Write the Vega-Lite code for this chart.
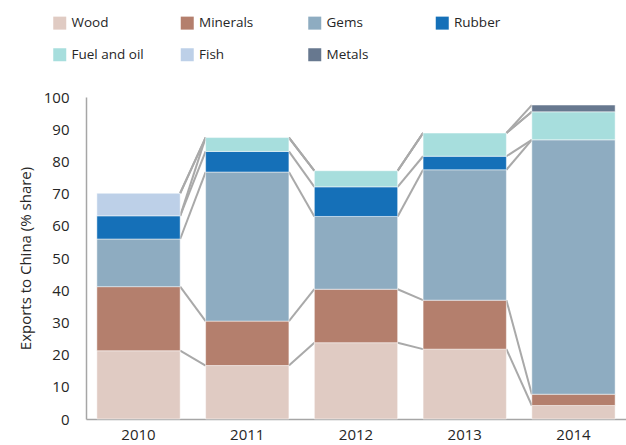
{
  "$schema": "https://vega.github.io/schema/vega-lite/v6.json",
  "width": 540,
  "height": 322,
  "autosize": {"type": "none"},
  "padding": {"left": 86, "top": 97, "right": 0, "bottom": 26},
  "background": "#ffffff",
  "config": {
    "view": {"stroke": null},
    "font": "Open Sans",
    "axis": {"labelFont": "Open Sans", "titleFont": "Open Sans"},
    "axisY": {"labelOverlap": false},
    "legend": {"labelFont": "Open Sans"}
  },
  "data": {
    "values": [
      {"year": "2010", "category": "Wood", "value": 21.2},
      {"year": "2010", "category": "Minerals", "value": 19.9},
      {"year": "2010", "category": "Gems", "value": 14.8},
      {"year": "2010", "category": "Rubber", "value": 7.2},
      {"year": "2010", "category": "Fuel and oil", "value": 0},
      {"year": "2010", "category": "Fish", "value": 7.0},
      {"year": "2010", "category": "Metals", "value": 0},
      {"year": "2011", "category": "Wood", "value": 16.6},
      {"year": "2011", "category": "Minerals", "value": 13.8},
      {"year": "2011", "category": "Gems", "value": 46.3},
      {"year": "2011", "category": "Rubber", "value": 6.4},
      {"year": "2011", "category": "Fuel and oil", "value": 4.3},
      {"year": "2011", "category": "Fish", "value": 0},
      {"year": "2011", "category": "Metals", "value": 0},
      {"year": "2012", "category": "Wood", "value": 23.7},
      {"year": "2012", "category": "Minerals", "value": 16.6},
      {"year": "2012", "category": "Gems", "value": 22.6},
      {"year": "2012", "category": "Rubber", "value": 9.2},
      {"year": "2012", "category": "Fuel and oil", "value": 5.0},
      {"year": "2012", "category": "Fish", "value": 0},
      {"year": "2012", "category": "Metals", "value": 0},
      {"year": "2013", "category": "Wood", "value": 21.7},
      {"year": "2013", "category": "Minerals", "value": 15.2},
      {"year": "2013", "category": "Gems", "value": 40.5},
      {"year": "2013", "category": "Rubber", "value": 4.2},
      {"year": "2013", "category": "Fuel and oil", "value": 7.2},
      {"year": "2013", "category": "Fish", "value": 0},
      {"year": "2013", "category": "Metals", "value": 0},
      {"year": "2014", "category": "Wood", "value": 4.2},
      {"year": "2014", "category": "Minerals", "value": 3.5},
      {"year": "2014", "category": "Gems", "value": 79.0},
      {"year": "2014", "category": "Rubber", "value": 0},
      {"year": "2014", "category": "Fuel and oil", "value": 8.7},
      {"year": "2014", "category": "Fish", "value": 0},
      {"year": "2014", "category": "Metals", "value": 2.1}
    ]
  },
  "transform": [
    {"calculate": "indexof(['Wood','Minerals','Gems','Rubber','Fuel and oil','Fish','Metals'], datum.category)", "as": "rank"}
  ],
  "encoding": {
    "x": {
      "field": "year",
      "type": "ordinal",
      "scale": {"paddingInner": 0.234, "paddingOuter": 0.1},
      "axis": {
        "title": null,
        "labelAngle": 0,
        "labelFontSize": 15,
        "labelColor": "#262626",
        "labelPadding": 8,
        "ticks": false,
        "tickSize": 0,
        "domainColor": "#a6a6a6",
        "domainWidth": 1.5,
        "grid": false
      }
    }
  },
  "layer": [
    {
      "transform": [
        {"window": [{"op": "sum", "field": "value", "as": "cum"}], "groupby": ["year"], "sort": [{"field": "rank"}], "frame": [null, 0]},
        {"window": [{"op": "lead", "field": "cum", "as": "nextCum"}, {"op": "lead", "field": "year", "as": "nextYear"}], "groupby": ["category"], "sort": [{"field": "year"}]},
        {"filter": "datum.nextYear != null"}
      ],
      "mark": {"type": "rule", "stroke": "#a9a9a9", "strokeWidth": 2, "xOffset": 41.65, "x2Offset": -41.65},
      "encoding": {
        "x2": {"field": "nextYear"},
        "y": {
          "field": "cum",
          "type": "quantitative",
          "scale": {"domain": [0, 100], "nice": false},
          "axis": {
            "title": "Exports to China (% share)",
            "titleFontSize": 15,
            "titleFontWeight": "normal",
            "titleColor": "#262626",
            "titlePadding": 10,
            "values": [0, 10, 20, 30, 40, 50, 60, 70, 80, 90, 100],
            "labelOverlap": false,
            "labelFontSize": 15,
            "labelColor": "#262626",
            "labelPadding": 17,
            "ticks": false,
            "tickSize": 0,
            "grid": false,
            "domainColor": "#a6a6a6",
            "domainWidth": 1.5
          }
        },
        "y2": {"field": "nextCum"}
      }
    },
    {
      "transform": [{"filter": "datum.value > 0"}],
      "mark": {"type": "bar", "stroke": "#ffffff", "strokeWidth": 0.8, "strokeOpacity": 0.6},
      "encoding": {
        "y": {
          "field": "value",
          "type": "quantitative",
          "aggregate": "sum",
          "stack": "zero",
          "scale": {"domain": [0, 100], "nice": false},
          "axis": {
            "title": "Exports to China (% share)",
            "titleFontSize": 15,
            "titleFontWeight": "normal",
            "titleColor": "#262626",
            "titlePadding": 10,
            "values": [0, 10, 20, 30, 40, 50, 60, 70, 80, 90, 100],
            "labelOverlap": false,
            "labelFontSize": 15,
            "labelColor": "#262626",
            "labelPadding": 17,
            "ticks": false,
            "tickSize": 0,
            "grid": false,
            "domainColor": "#a6a6a6",
            "domainWidth": 1.5
          }
        },
        "order": {"field": "rank", "type": "quantitative", "aggregate": "min"},
        "color": {
          "field": "category",
          "type": "nominal",
          "scale": {
            "domain": ["Wood", "Minerals", "Gems", "Rubber", "Fuel and oil", "Fish", "Metals"],
            "range": ["#e0cbc3", "#b47f6d", "#8eacc1", "#1570b8", "#a7dedd", "#bdd0e8", "#67788f"]
          },
          "legend": {
            "title": null,
            "orient": "none",
            "direction": "horizontal",
            "legendX": -33,
            "legendY": -81,
            "columns": 4,
            "gridAlign": "all",
            "columnPadding": 36.5,
            "rowPadding": 17,
            "symbolType": "square",
            "symbolSize": 169,
            "symbolStrokeWidth": 0,
            "symbolOpacity": 1,
            "labelFontSize": 13.5,
            "labelColor": "#262626",
            "labelOffset": 5,
            "padding": 0
          }
        }
      }
    }
  ]
}
